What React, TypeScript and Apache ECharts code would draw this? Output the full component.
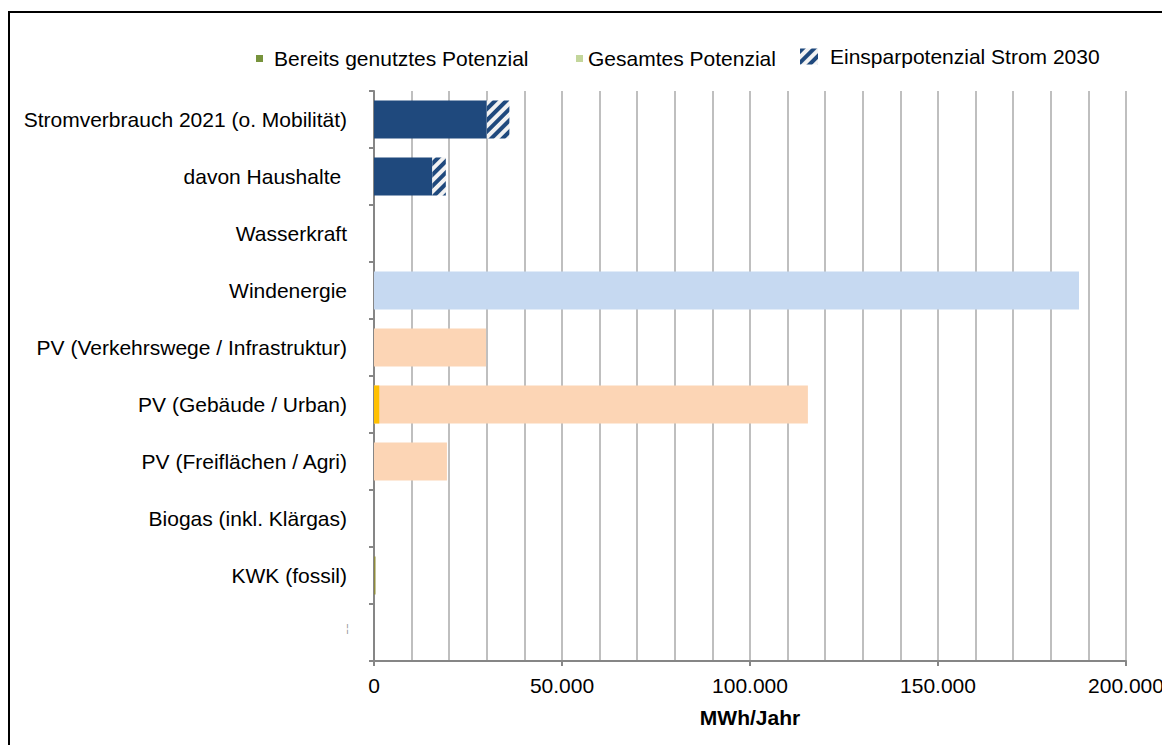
import React, { useEffect, useRef } from "react";
import * as echarts from "echarts";

const categories = [
  "Stromverbrauch 2021 (o. Mobilität)",
  "davon Haushalte ",
  "Wasserkraft",
  "Windenergie",
  "PV (Verkehrswege / Infrastruktur)",
  "PV (Gebäude / Urban)",
  "PV (Freiflächen / Agri)",
  "Biogas (inkl. Klärgas)",
  "KWK (fossil)",
  "",
];

// MWh/Jahr
const genutztValues = [30000, 15500, null, null, null, 1400, null, null, 400, null];
const gesamtValues = [null, null, null, 187500, 29800, 115400, 19400, null, null, null];
const einsparValues = [6000, 3600, null, null, null, null, null, null, null, null];

const genutztColors = ["#1F497D", "#1F497D", "#77933C", "#77933C", "#77933C", "#FFC000", "#77933C", "#77933C", "#8E8B3C", "#77933C"];
const gesamtColors = ["#C3D69B", "#C3D69B", "#C3D69B", "#C6D9F1", "#FCD5B5", "#FCD5B5", "#FCD5B5", "#C3D69B", "#C3D69B", "#C3D69B"];

const xTicks = { min: 0, max: 200000, interval: 50000, minorSplit: 5 };

const FONT = '"Liberation Sans", Arial, sans-serif';

const fmt = (v: number) => String(v).replace(/\B(?=(\d{3})+(?!\d))/g, ".");

const hatch = {
  symbol: "rect",
  symbolSize: 1,
  color: "#1F497D",
  dashArrayX: [1, 0],
  dashArrayY: [4, 4],
  rotation: -Math.PI / 4,
};

export default function App() {
  const ref = useRef<HTMLDivElement>(null);
  useEffect(() => {
    if (!ref.current) return;
    const prevOverflow = document.documentElement.style.overflow;
    document.documentElement.style.overflow = "hidden";
    const chart = echarts.init(ref.current, undefined, { renderer: "svg" });
    const option: any = {
      animation: false,
      textStyle: { fontFamily: FONT },
      grid: { left: 366, right: 44, top: 83, bottom: 84, containLabel: false, outerBoundsMode: "none" },
      legend: [
        {
          data: ["Bereits genutztes Potenzial"],
          left: 243,
          top: 35,
          itemWidth: 7,
          itemHeight: 7,
          icon: "rect",
          textStyle: { fontSize: 21, color: "#000", fontFamily: FONT, padding: [0, 0, 0, 6] },
        },
        {
          data: ["Gesamtes Potenzial"],
          left: 563,
          top: 35,
          itemWidth: 7,
          itemHeight: 7,
          icon: "rect",
          textStyle: { fontSize: 21, color: "#000", fontFamily: FONT },
        },
        {
          data: ["Einsparpotenzial Strom 2030"],
          left: 787,
          top: 33,
          itemWidth: 18,
          itemHeight: 16,
          icon: "rect",
          textStyle: { fontSize: 21, color: "#000", fontFamily: FONT, padding: [0, 0, 0, 7] },
        },
      ],
      xAxis: {
        type: "value",
        min: xTicks.min,
        max: xTicks.max,
        interval: xTicks.interval,
        axisLine: { show: true, lineStyle: { color: "#868686", width: 2 } },
        axisTick: { show: true, length: 5, lineStyle: { color: "#868686", width: 2 } },
        axisLabel: { formatter: (v: number) => fmt(v), color: "#000", fontSize: 21, margin: 14, fontFamily: FONT },
        splitLine: { show: true, lineStyle: { color: "#BFBFBF", width: 2 } },
        minorTick: { show: false, splitNumber: xTicks.minorSplit },
        minorSplitLine: { show: true, lineStyle: { color: "#BFBFBF", width: 2 } },
        name: "MWh/Jahr",
        nameLocation: "middle",
        nameGap: 46,
        nameTextStyle: { fontWeight: "bold", fontSize: 21, color: "#000", fontFamily: FONT },
      },
      yAxis: {
        type: "category",
        inverse: true,
        data: categories,
        axisLine: { show: true, lineStyle: { color: "#868686", width: 2 } },
        axisTick: { show: true, length: 5, lineStyle: { color: "#868686", width: 2 } },
        axisLabel: { fontSize: 21, color: "#000", margin: 27, fontFamily: FONT },
        splitLine: { show: false },
      },
      series: [
        {
          name: "Gesamtes Potenzial",
          type: "bar",
          barWidth: 38,
          barGap: "-100%",
          itemStyle: { color: "#C3D69B" },
          data: gesamtValues.map((v, i) => ({ value: v, itemStyle: { color: gesamtColors[i] } })),
        },
        {
          name: "Bereits genutztes Potenzial",
          type: "bar",
          stack: "s",
          barWidth: 38,
          barGap: "-100%",
          itemStyle: { color: "#77933C" },
          data: genutztValues.map((v, i) => ({ value: v, itemStyle: { color: genutztColors[i] } })),
        },
        {
          name: "Einsparpotenzial Strom 2030",
          type: "bar",
          stack: "s",
          barWidth: 38,
          barGap: "-100%",
          itemStyle: { color: "#F2F2F2", decal: hatch },
          data: einsparValues,
        },
      ],
      graphic: [
        { type: "line", shape: { x1: 0, y1: 4, x2: 1162, y2: 4 }, style: { stroke: "#000", lineWidth: 2 } },
        { type: "line", shape: { x1: 1, y1: 4, x2: 1, y2: 737 }, style: { stroke: "#000", lineWidth: 2 } },
        { type: "text", x: 338, y: 614, style: { text: "¦", fontSize: 11, fill: "#9A9A9A", fontFamily: FONT } },
      ],
    };
    chart.setOption(option);
    return () => {
      chart.dispose();
      document.documentElement.style.overflow = prevOverflow;
    };
  }, []);
  return <div ref={ref} style={{ width: 1162, height: 737 }} />;
}
